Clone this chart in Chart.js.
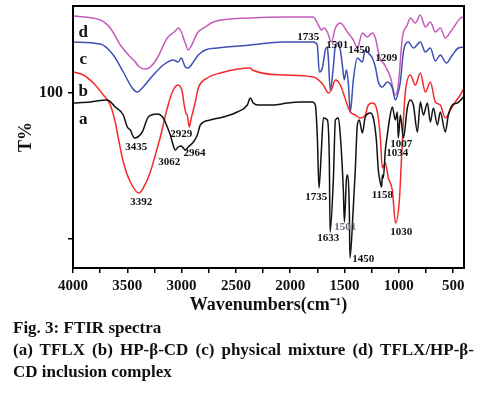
<!DOCTYPE html>
<html>
<head>
<meta charset="utf-8">
<script src="https://cdn.jsdelivr.net/npm/chart.js@4/dist/chart.umd.min.js"></script>
<style>
  html, body { margin: 0; padding: 0; background: #fff; }
  #wrap { position: relative; width: 493px; height: 398px; overflow: hidden; }
  #c { position: absolute; left: 0; top: 0; }
  .cap { position: absolute; left: 13px; width: 461px; font-family: "Liberation Serif", "Times New Roman", serif;
         font-weight: bold; font-size: 17px; line-height: 22px; color: #111; white-space: nowrap; }
  .just { text-align: justify; text-align-last: justify; white-space: normal; }
</style>
</head>
<body>
<div id="wrap">
  <canvas id="c" width="493" height="320"></canvas>
  <div class="cap" style="top:317px">Fig. 3: FTIR spectra</div>
  <div class="cap just" style="top:339px">(a) TFLX (b) HP-β-CD (c) physical mixture (d) TFLX/HP-β-</div>
  <div class="cap" style="top:361px">CD inclusion complex</div>
</div>
<script>
// ---- data (wavenumber cm-1, T% in arbitrary stacked units) ----
const seriesNames = ['a', 'b', 'c', 'd'];

const aWn = [4000,3841,3684,3611,3537,3500,3472,3435,3362,3307,3224,3169,3132,3104,3086,3058,3031,3003,2966,2939,2892,2855,2828,2736,2616,2487,2395,2368,2340,2294,2156,2027,1907,1797,1769,1751,1735,1713,1695,1658,1640,1633,1603,1584,1557,1539,1511,1501,1483,1474,1456,1450,1419,1401,1382,1364,1336,1309,1263,1235,1207,1189,1170,1158,1152,1143,1124,1106,1087,1060,1032,1014,1005,986,958,922,894,866,829,802,774,737,710,682,645,618,572,544,507,461,406,400];
const aT  = [95,95.5,96.5,93,89,83,81.5,77.5,80.5,88,89.5,87.5,83,79,75.5,71.5,73,73.5,71.5,73,75.5,79,84,86.5,88,90.5,94,97.5,95,94,94,95,95.5,95.5,94,79,52.5,71.5,87.5,86.5,66.5,30.5,56.5,86.5,87.5,79,51.5,35.5,56.5,59,41.5,17.5,43,61.5,84,86.5,80,88,90,87.5,76.5,61.5,55,53,59,57.5,71.5,79,86.5,93,86.5,90.5,77.5,89,77.5,92.5,96.5,94,80.5,95.5,89,95,85.5,92.5,84,90.5,80.5,89,94,95,98,98.5];

const bWn = [4000,3905,3813,3721,3657,3611,3583,3537,3472,3392,3353,3288,3242,3196,3132,3077,3031,2994,2976,2957,2948,2930,2911,2892,2874,2846,2763,2644,2368,2349,2064,1788,1695,1649,1621,1584,1539,1474,1447,1401,1355,1309,1281,1244,1216,1189,1170,1152,1124,1097,1060,1030,995,977,958,940,894,848,802,756,710,664,618,572,526,480,434,400];
const bT  = [110.5,109,105,99,94,85.5,77.5,65.5,55.5,50,52.5,60.5,69,78,92.5,101.5,104,100.5,94,89.5,89,83,87.5,91.5,95.5,102.5,107.5,110,112.5,111.5,109,108,104,100,101.5,106.5,104,94,90.5,89,87.5,89,94,95,94,87.5,77.5,62.5,65,57.5,51.5,35,46.5,65.5,86.5,100.5,109,104,110,100.5,105.5,95.5,94,87.5,91.5,95.5,99,102.5];

const cWn = [4000,3749,3629,3537,3454,3408,3362,3261,3169,3077,3031,3003,2966,2939,2892,2846,2782,2671,2368,2064,1788,1751,1732,1704,1677,1658,1649,1631,1603,1584,1566,1539,1520,1502,1483,1465,1447,1419,1382,1336,1309,1281,1244,1216,1189,1152,1106,1060,1032,1005,986,958,912,866,802,756,710,664,618,563,507,452,400];
const cT  = [125.5,124.5,119,110.5,102.5,100.5,102.5,109,114,116.5,115.5,117.5,113,112.5,115.5,119,121.5,122.5,124,125.5,125.5,124,110.5,112.5,121.5,123,117.5,101.5,113,124,125,121.5,114,106.5,111.5,105,90.5,106.5,117.5,115.5,121.5,120,117.5,113,105.5,103,105.5,102.5,96.5,100.5,105.5,120.5,125.5,122.5,125.5,120.5,122.5,116,119,115,119,122.5,123];

const dWn = [4000,3749,3657,3564,3472,3426,3399,3334,3288,3224,3132,3058,3031,3012,2966,2939,2911,2855,2782,2708,2368,2064,1788,1741,1713,1686,1658,1621,1584,1539,1474,1419,1382,1336,1290,1244,1216,1170,1143,1115,1078,1032,1005,968,922,894,848,802,756,710,664,618,572,526,480,434,400];
const dT  = [138.5,136.5,132.5,124,118,115.5,113.5,112,113,117.5,127.5,131,132.5,131.5,125,121.5,123.5,130,133,135.5,137.5,138,138,134,131.5,132.5,130.5,125.5,132.5,135,130.5,126.5,122.5,130,128,130,127.5,116.5,115,112.5,108,99,104,127.5,134,137.5,135,139,133,135.5,130.5,132.5,127.5,130.5,134,137.5,138];

// peak annotations: text, wavenumber, T position
const peakText = ['1735','1501','1450','1209','2929','3435','3062','2964','3392','1007','1034','1735','1158','1633','1501','1030','1450'];
const peakWn   = [1833,1566,1364,1115,3003,3417,3113,2882,3371,977,1014,1760,1152,1649,1493,977,1327];
const peakT    = [128,124,121.5,117.5,79.5,73,65.5,70,45.5,74.5,70,48,49,27.5,33,30.5,17];
const peakGray = [false,false,false,false,false,false,false,false,false,false,false,false,false,false,true,false,false];

// curve letters
const curveLabelT = [86.5, 100.5, 116.5, 130];
const curveLabelWn = 3905;

// axis ticks
const xTickValues = [4000,3750,3500,3250,3000,2750,2500,2250,2000,1750,1500,1250,1000,750,500];
const yTickValues = [27, 100];
const yTickLabels = ['', '100'];

// ---- build chart ----
const colors = ['#111111', '#f42a2a', '#3e4eb2', '#c45cbc'];
const wns = [aWn, bWn, cWn, dWn];
const ts = [aT, bT, cT, dT];

const datasets = seriesNames.map((n, i) => ({
  label: n,
  data: wns[i].map((w, k) => ({ x: w, y: ts[i][k] })),
  borderColor: colors[i],
  borderWidth: 1.5,
  pointRadius: 0,
  fill: false,
  cubicInterpolationMode: 'monotone'
}));

const serif = '"Liberation Serif", "Times New Roman", serif';

const annotate = {
  id: 'annotate',
  afterDatasetsDraw(chart) {
    const { ctx, scales: { x, y } } = chart;
    ctx.save();
    ctx.textAlign = 'center';
    ctx.textBaseline = 'middle';
    ctx.font = 'bold 11px ' + serif;
    peakText.forEach((t, i) => {
      ctx.fillStyle = peakGray[i] ? '#6a6a7a' : '#111';
      ctx.fillText(t, x.getPixelForValue(peakWn[i]), y.getPixelForValue(peakT[i]));
    });
    ctx.font = 'bold 17px ' + serif;
    ctx.fillStyle = '#111';
    seriesNames.forEach((n, i) => {
      ctx.fillText(n, x.getPixelForValue(curveLabelWn), y.getPixelForValue(curveLabelT[i]));
    });
    ctx.restore();
  },
  afterDraw(chart) {
    const { ctx, chartArea: a } = chart;
    ctx.save();
    ctx.strokeStyle = '#000';
    ctx.lineWidth = 2;
    ctx.strokeRect(a.left, a.top, a.right - a.left, a.bottom - a.top);
    ctx.restore();
  }
};

new Chart(document.getElementById('c'), {
  type: 'line',
  data: { datasets },
  plugins: [annotate],
  options: {
    responsive: false,
    animation: false,
    devicePixelRatio: 1,
    layout: { padding: { top: 6, right: 29, left: 0, bottom: 0 } },
    plugins: { legend: { display: false }, tooltip: { enabled: false } },
    scales: {
      x: {
        type: 'linear',
        reverse: true,
        min: 400,
        max: 4000,
        afterFit(s) { s.height = 52; s.paddingLeft = 0; s.paddingRight = 0; },
        afterBuildTicks(s) { s.ticks = xTickValues.map(v => ({ value: v })); },
        border: { display: true, color: '#000', width: 2 },
        grid: { display: true, drawOnChartArea: false, drawTicks: true, tickLength: 5, color: '#000', lineWidth: 1.5 },
        ticks: {
          autoSkip: false, maxRotation: 0, padding: 4, color: '#111',
          font: { family: serif, size: 15, weight: 'bold' },
          callback: (v) => (v % 500 === 0 ? String(v) : '')
        },
        title: {
          display: true, text: 'Wavenumbers(cm⁻¹)', color: '#111',
          font: { family: serif, size: 18, weight: 'bold' },
          padding: { top: 0, bottom: 4 }
        }
      },
      y: {
        type: 'linear',
        min: 12.5,
        max: 143.5,
        afterFit(s) { s.width = 73; s.paddingTop = 0; s.paddingBottom = 0; },
        afterBuildTicks(s) { s.ticks = yTickValues.map(v => ({ value: v })); },
        border: { display: true, color: '#000', width: 2 },
        grid: { display: true, drawOnChartArea: false, drawTicks: true, tickLength: 5, color: '#000', lineWidth: 1.5 },
        ticks: {
          padding: 5, color: '#111',
          font: { family: serif, size: 16, weight: 'bold' },
          callback: (v) => { const i = yTickValues.indexOf(v); return i >= 0 ? yTickLabels[i] : ''; }
        },
        title: {
          display: true, text: 'T%', color: '#111',
          font: { family: serif, size: 18, weight: 'bold' },
          padding: { top: 16, bottom: 0 }
        }
      }
    }
  }
});
</script>
</body>
</html>
